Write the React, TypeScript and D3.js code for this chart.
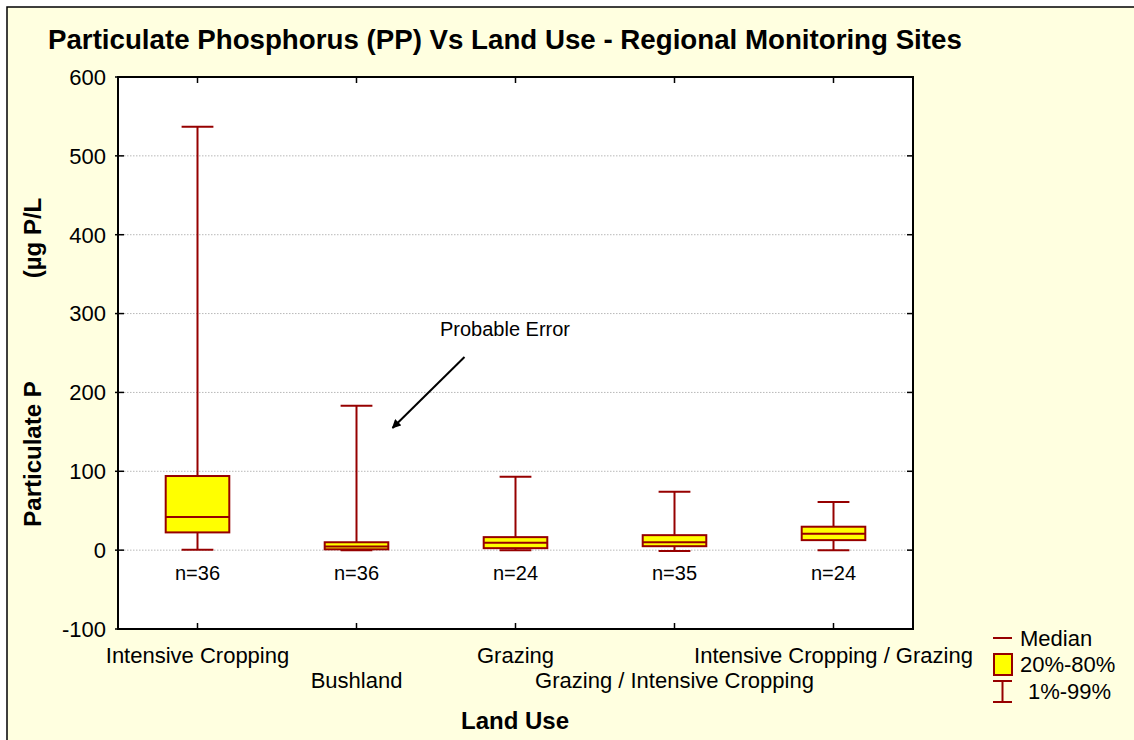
import React from 'react';
import * as d3 from 'd3';

const categories = [
  'Intensive Cropping',
  'Bushland',
  'Grazing',
  'Grazing / Intensive Cropping',
  'Intensive Cropping / Grazing',
];
const p01 = [0.5, 0, 0, -1, 0];
const p20 = [22.5, 1, 2.5, 5, 12.7];
const medians = [42, 4.5, 9.4, 10, 20.8];
const p80 = [94, 10, 16.5, 19, 29.7];
const p99 = [537, 183, 93, 74, 61];
const counts = [36, 36, 24, 35, 24];
const yTicks = [-100, 0, 100, 200, 300, 400, 500, 600];
const labelRow = [0, 1, 0, 1, 0];

const FONT = "'Liberation Sans', Arial, Helvetica, sans-serif";
const RED = '#960000';
const YELLOW = '#FFFF00';

export default function App() {
  const W = 1134;
  const H = 740;
  const left = 118, right = 913, top = 77, bottom = 629;
  const y = d3.scaleLinear().domain([-100, 600]).range([bottom, top]);
  const x = d3.scaleBand<string>().domain(categories).range([left, right]).padding(0);
  const bw = x.bandwidth();
  const boxW = bw * 0.4;
  const capW = bw * 0.2;

  const data = categories.map((c, i) => ({
    c, lo: p01[i], q1: p20[i], med: medians[i], q3: p80[i], hi: p99[i], n: counts[i], row: labelRow[i],
  }));

  const cx = (c: string) => (x(c) as number) + bw / 2;

  // annotation arrow (in data space relative to Bushland)
  const arrowStart = { x: cx('Bushland') + 108, y: y(245) };
  const arrowTip = { x: cx('Bushland') + 36, y: y(155) };

  return (
    <div style={{ position: 'fixed', left: 0, top: 0, width: W, height: H, background: '#fff' }}>
      <svg width={W} height={H} style={{ display: 'block', fontFamily: FONT }}>
        <defs>
          <marker id="arrowhead" viewBox="0 0 10 10" refX="9" refY="5" markerWidth="9" markerHeight="9" orient="auto" markerUnits="userSpaceOnUse">
            <path d="M0,0 L10,5 L0,10 z" fill="#000" />
          </marker>
        </defs>
        <rect x={7} y={7} width={W + 20} height={H + 20} fill="#FFFFE0" stroke="#000" strokeWidth={1.5} />
        <text x={48} y={49} fontSize={27.7} fontWeight="bold" fill="#000">
          Particulate Phosphorus (PP) Vs Land Use - Regional Monitoring Sites
        </text>

        {/* plot area */}
        <rect x={left} y={top} width={right - left} height={bottom - top} fill="#fff" />
        {yTicks.filter(t => t > -100 && t < 600).map(t => (
          <line key={'g' + t} x1={left} x2={right} y1={y(t)} y2={y(t)} stroke="#b8b8b8" strokeWidth={1} strokeDasharray="1.5,1.5" />
        ))}

        {/* y ticks and labels */}
        {yTicks.map(t => (
          <g key={'yt' + t}>
            <line x1={left - 3} x2={left + 6} y1={y(t)} y2={y(t)} stroke="#000" strokeWidth={1.5} />
            <line x1={right - 6} x2={right} y1={y(t)} y2={y(t)} stroke="#000" strokeWidth={1.5} />
            <text x={106} y={y(t)} dy="0.36em" textAnchor="end" fontSize={22} fill="#000">{t}</text>
          </g>
        ))}

        {/* x ticks */}
        {categories.map(c => (
          <g key={'xt' + c}>
            <line x1={cx(c)} x2={cx(c)} y1={top} y2={top + 6} stroke="#000" strokeWidth={1.5} />
            <line x1={cx(c)} x2={cx(c)} y1={bottom - 6} y2={bottom} stroke="#000" strokeWidth={1.5} />
          </g>
        ))}

        {/* boxes */}
        {data.map(d => {
          const c = cx(d.c);
          return (
            <g key={'b' + d.c}>
              <line x1={c} x2={c} y1={y(d.hi)} y2={y(d.q3)} stroke={RED} strokeWidth={2} />
              <line x1={c} x2={c} y1={y(d.q1)} y2={y(d.lo)} stroke={RED} strokeWidth={2} />
              <line x1={c - capW / 2} x2={c + capW / 2} y1={y(d.hi)} y2={y(d.hi)} stroke={RED} strokeWidth={2} />
              <line x1={c - capW / 2} x2={c + capW / 2} y1={y(d.lo)} y2={y(d.lo)} stroke={RED} strokeWidth={2} />
              <rect x={c - boxW / 2} y={y(d.q3)} width={boxW} height={Math.max(1, y(d.q1) - y(d.q3))} fill={YELLOW} stroke={RED} strokeWidth={2} />
              <line x1={c - boxW / 2} x2={c + boxW / 2} y1={y(d.med)} y2={y(d.med)} stroke={RED} strokeWidth={2} />
              <text x={c} y={y(-38)} textAnchor="middle" fontSize={20} fill="#000">n={d.n}</text>
            </g>
          );
        })}

        {/* frame */}
        <rect x={left} y={top} width={right - left} height={bottom - top} fill="none" stroke="#000" strokeWidth={2} />

        {/* category labels */}
        {data.map(d => (
          <text key={'xl' + d.c} x={cx(d.c)} y={d.row === 0 ? 663 : 688} textAnchor="middle" fontSize={22} fill="#000">{d.c}</text>
        ))}

        {/* axis titles */}
        <text x={515} y={729} textAnchor="middle" fontSize={24} fontWeight="bold" fill="#000">Land Use</text>
        <text transform="translate(41,454) rotate(-90)" textAnchor="middle" fontSize={24} fontWeight="bold" fill="#000">Particulate P</text>
        <text transform="translate(41,238) rotate(-90)" textAnchor="middle" fontSize={24} fontWeight="bold" fill="#000">(µg P/L</text>

        {/* annotation */}
        <text x={505} y={336} textAnchor="middle" fontSize={20} fill="#000">Probable Error</text>
        <line x1={arrowStart.x} y1={arrowStart.y} x2={arrowTip.x} y2={arrowTip.y} stroke="#000" strokeWidth={2} markerEnd="url(#arrowhead)" />

        {/* legend */}
        <g>
          <line x1={993} x2={1012} y1={638} y2={638} stroke={RED} strokeWidth={2} />
          <text x={1020} y={638} dy="0.36em" fontSize={22} fill="#000">Median</text>
          <rect x={994} y={654} width={18} height={21} fill={YELLOW} stroke={RED} strokeWidth={2} />
          <text x={1020} y={664} dy="0.36em" fontSize={22} fill="#000">20%-80%</text>
          <line x1={993} x2={1012} y1={681} y2={681} stroke={RED} strokeWidth={2} />
          <line x1={993} x2={1012} y1={702} y2={702} stroke={RED} strokeWidth={2} />
          <line x1={1002.5} x2={1002.5} y1={681} y2={702} stroke={RED} strokeWidth={2} />
          <text x={1028} y={691} dy="0.36em" fontSize={22} fill="#000">1%-99%</text>
        </g>
      </svg>
    </div>
  );
}
